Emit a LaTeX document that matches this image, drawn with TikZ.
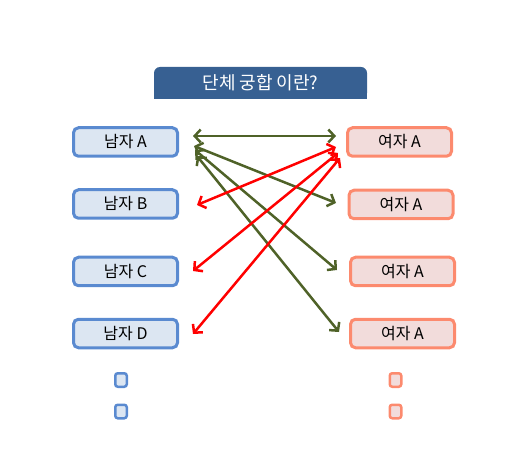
\documentclass[tikz,border=0pt]{standalone}
\usepackage{fontspec}
\setmainfont{Noto Sans CJK KR}
\usetikzlibrary{arrows.meta}
\definecolor{MyBlue}{HTML}{5A8AD0}
\definecolor{MyLightBlue}{HTML}{DCE6F2}
\definecolor{MyOrange}{HTML}{FC8A6E}
\definecolor{MyLightOrange}{HTML}{F2DCDB}
\definecolor{MyTitle}{HTML}{376092}
\definecolor{MyGreen}{HTML}{4F6228}
\definecolor{MyRed}{HTML}{FF0000}

\begin{document}
\begin{tikzpicture}[x=1pt, y=-1pt, every node/.style={font=\fontsize{16}{19}\selectfont, text=black},
	man/.style={draw=MyBlue, fill=MyLightBlue, line width=3pt, rounded corners=5pt, minimum width=104pt, minimum height=28.5pt, inner sep=0pt},
	woman/.style={draw=MyOrange, fill=MyLightOrange, line width=3pt, rounded corners=5pt, minimum width=104pt, minimum height=28.5pt, inner sep=0pt},
	dot/.style={line width=2.5pt, rounded corners=2.5pt, minimum width=11.5pt, minimum height=13.5pt},
	pair/.style={line width=2.5pt, {Straight Barb[length=6pt,width=13pt]}-{Straight Barb[length=6pt,width=13pt]}}]
			\useasboundingbox (0,0) rectangle (517,465);
			
			\fill[MyTitle, rounded corners=6pt] (154,67) rectangle (367,99);
			\fill[MyTitle] (154,85) rectangle (367,99);
			\node[text=white, font=\fontsize{18}{21}\selectfont] (title) at (260.5,83) {단체 궁합 이란?};
			
			\foreach \n/\y/\l in {1/142/A, 2/204/B, 3/271.5/C, 4/333.5/D}{
			\node[man] (m\n) at (125.5,\y) {남자 \l};}
			\foreach \n/\x/\y in {1/399.5/142, 2/401/204.5, 3/402.5/271.5, 4/402.5/333.5}{
			\node[woman] (w\n) at (\x,\y) {여자 A};}
			
			\foreach \n/\y in {1/380, 2/411.5}{
			\node[man, dot] (dm\n) at (121,\y) {};
			\node[woman, dot] (dw\n) at (395.5,\y) {};}
			
			\draw[pair, MyGreen] ([xshift=14pt, yshift=6pt]m1.east) -- ([xshift=-10pt, yshift=6pt]w1.west);
			\draw[pair, MyGreen] ([xshift=15pt, yshift=-4pt]m1.east) -- ([xshift=-11.5pt, yshift=1.5pt]w2.west);
			\draw[pair, MyGreen] ([xshift=16pt, yshift=-8pt]m1.east) -- ([xshift=-12pt, yshift=1.5pt]w3.west);
			\draw[pair, MyGreen] ([xshift=18pt, yshift=-14pt]m1.east) -- ([xshift=-10pt, yshift=1.5pt]w4.west);
			
			\draw[pair, MyRed] ([xshift=18pt, yshift=-1pt]m2.east) -- ([xshift=-10pt, yshift=-5pt]w1.west);
			\draw[pair, MyRed] ([xshift=14pt, yshift=0.5pt]m3.east) -- ([xshift=-8pt, yshift=-11pt]w1.west);
			\draw[pair, MyRed] ([xshift=14pt, yshift=-0.5pt]m4.east) -- ([xshift=-6pt, yshift=-16pt]w1.west);
		\end{tikzpicture}
\end{document}
